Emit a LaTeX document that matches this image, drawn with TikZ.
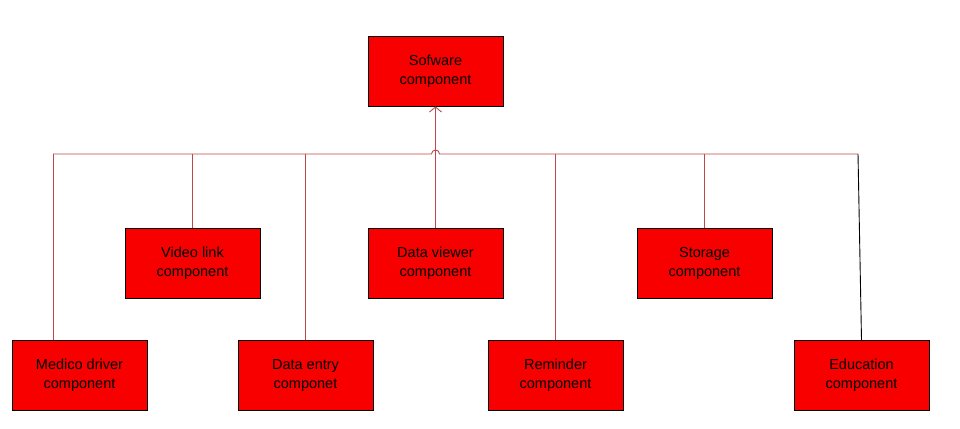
\documentclass[tikz,border=0pt]{standalone}
\usepackage{fontspec}
\setmainfont{Liberation Sans}
\usetikzlibrary{arrows.meta}
\definecolor{boxred}{RGB}{248,0,0}
\definecolor{wirered}{RGB}{190,72,72}

\begin{document}
\begin{tikzpicture}[x=1pt,y=1pt,
    comp/.style={draw=black, line width=0.9pt, fill=boxred, minimum width=135pt,
        minimum height=70pt, align=center, inner sep=2pt,
        font=\fontsize{14.5}{19}\selectfont},
    wire/.style={draw=wirered, line width=0.9pt}]
    \useasboundingbox (0,0) rectangle (960,428);

    % Top: the software component
    \node [comp] (soft) at (435.5,357) {Sofware\\component};

    % Middle row
    \node [comp] (video) at (192.5,164.5) {Video link\\component};
    \node [comp] (viewer) at (435.5,164.5) {Data viewer\\component};
    \node [comp] (storage) at (704.5,164.5) {Storage\\component};

    % Bottom row
    \node [comp] (medico) at (79.5,52.5) {Medico driver\\component};
    \node [comp] (entry) at (305.5,52.5) {Data entry\\componet};
    \node [comp] (reminder) at (555.5,52.5) {Reminder\\component};
    \node [comp] (edu) at (861.5,52.5) {Education\\component};

    % Bus ends and the hop over the riser
    \coordinate (busL) at (53,274);
    \coordinate (busR) at (858,274);
    \coordinate (hop) at (435.5,274);

    % Horizontal bus with a small jump
    \draw [wire] (busL) -- ([xshift=-4pt]hop) arc (180:0:4) -- (busR);

    % Riser up to the software component
    \draw [wire, -{Straight Barb[length=5pt,width=12pt]}] (viewer.north) -- (soft.south);

    % Drops from the bus
    \draw [wire] (busL) -- (busL |- medico.north);
    \draw [wire] (video.north) -- (video.north |- busL);
    \draw [wire] (entry.north) -- (entry.north |- busL);
    \draw [wire] (reminder.north) -- (reminder.north |- busL);
    \draw [wire] (storage.north) -- (storage.north |- busL);
    \draw [line width=0.9pt] (busR) -- (edu.north);

\end{tikzpicture}
\end{document}
